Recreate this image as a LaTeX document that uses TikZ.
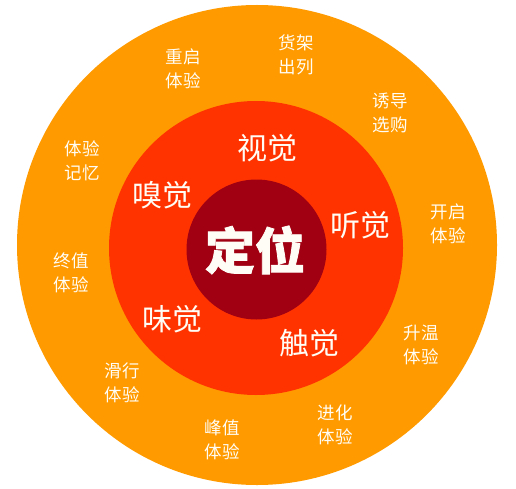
\documentclass[tikz,border=0pt]{standalone}
\usepackage{fontspec}
\newfontfamily\cjk{Noto Sans CJK SC}
\newfontfamily\cjkheavy[BoldFeatures={FakeBold=1.6}]{Noto Sans CJK SC}
\definecolor{outerc}{HTML}{FF9A00}
\definecolor{midc}{HTML}{FF3300}
\definecolor{innerc}{HTML}{A00012}
\definecolor{txtc}{HTML}{FFFDF5}
\begin{document}
\begin{tikzpicture}[x=1pt,y=-1pt,
  ring/.style={circle,inner sep=0pt,draw=none},
  outerlbl/.style={inner sep=0pt,align=center,text=txtc,font=\cjk\fontsize{17.5}{23.5}\selectfont},
  midlbl/.style={inner sep=0pt,text=txtc,font=\cjk\fontsize{30}{32}\selectfont},
  centerlbl/.style={inner sep=0pt,text=txtc,font=\cjkheavy\bfseries\fontsize{50}{52}\selectfont}]
\useasboundingbox (0,0) rectangle (516,489);
\node[ring,fill=outerc,minimum size=480pt] (outer) at (257,245) {};
\node[ring,fill=midc,minimum size=294pt] (mid) at (256,248) {};
\node[ring,fill=innerc,minimum size=140pt] (inner) at (256.5,249.5) {};
\node[centerlbl] (dingwei) at (255,250) {定位};
\node[midlbl] (shi) at (267,148) {视觉};
\node[midlbl] (xiu) at (162,195) {嗅觉};
\node[midlbl] (ting) at (360,225) {听觉};
\node[midlbl] (wei) at (172,319) {味觉};
\node[midlbl] (chu) at (309,343) {触觉};
\node[outerlbl] (o1) at (183,69) {重启\\体验};
\node[outerlbl] (o2) at (296,55) {货架\\出列};
\node[outerlbl] (o3) at (390,113) {诱导\\选购};
\node[outerlbl] (o4) at (82,161) {体验\\记忆};
\node[outerlbl] (o5) at (448,224) {开启\\体验};
\node[outerlbl] (o6) at (71,273) {终值\\体验};
\node[outerlbl] (o7) at (421,345) {升温\\体验};
\node[outerlbl] (o8) at (122,383) {滑行\\体验};
\node[outerlbl] (o9) at (222,440) {峰值\\体验};
\node[outerlbl] (o10) at (335,425) {进化\\体验};
\end{tikzpicture}
\end{document}
